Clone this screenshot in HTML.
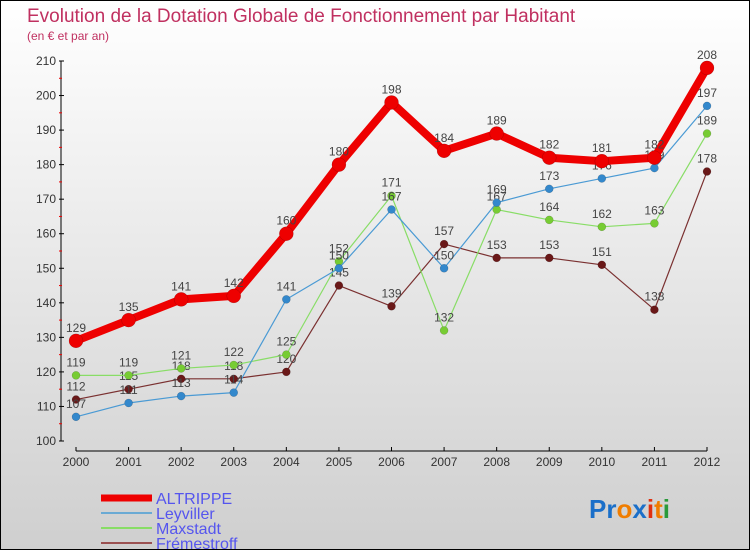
<!DOCTYPE html>
<html><head><meta charset="utf-8"><style>
body{margin:0;width:750px;height:550px;overflow:hidden}
#wrap{position:relative;width:748px;height:548px;border:1px solid #000;background:linear-gradient(#ffffff,#cfcfcf)}
svg{position:absolute;left:0;top:0}
text{font-family:"Liberation Sans",sans-serif}
</style></head><body>
<div id="wrap">
<svg id="chart" width="750" height="550">
<text x="26" y="21" font-size="19" fill="#c03060">Evolution de la Dotation Globale de Fonctionnement par Habitant</text>
<text x="26" y="39" font-size="12" fill="#c03060">(en € et par an)</text>
<text x="588" y="517" font-size="26" font-weight="bold"><tspan fill="#1a6fc9">Pr</tspan><tspan fill="#f07d00">o</tspan><tspan fill="#1a6fc9">x</tspan><tspan fill="#e03010">i</tspan><tspan fill="#f07d00">t</tspan><tspan fill="#2a9a3a">i</tspan></text>
</svg>
</div>
<script>
const years=[2000,2001,2002,2003,2004,2005,2006,2007,2008,2009,2010,2011,2012];
const yTicks=[100,110,120,130,140,150,160,170,180,190,200,210];
const altrippe=[129,135,141,142,160,180,198,184,189,182,181,182,208];
const leyviller=[107,111,113,114,141,150,167,150,169,173,176,179,197];
const maxstadt=[119,119,121,122,125,152,171,132,167,164,162,163,189];
const fremestroff=[112,115,118,118,120,145,139,157,153,153,151,138,178];
const seriesNames=["ALTRIPPE","Leyviller","Maxstadt","Frémestroff"];
const NS="http://www.w3.org/2000/svg";
const svg=document.getElementById('chart');
const x=i=>75+i*(706-75)/(years.length-1);
const y=v=>440-(v-100)*(380/110);
function mk(t,a,p){const e=document.createElementNS(NS,t);for(const k in a)e.setAttribute(k,a[k]);(p||svg).appendChild(e);return e;}
let e=mk('line',{x1:60,y1:y(210),x2:60,y2:y(100),stroke:'#000','stroke-width':1});


e=mk('line',{x1:75,y1:450,x2:706,y2:450,stroke:'#000','stroke-width':1});


yTicks.forEach(v=>{
  mk('line',{x1:58,y1:y(v),x2:63,y2:y(v),stroke:'#000'});
  if(v<210)mk('line',{x1:58,y1:y(v+5),x2:61,y2:y(v+5),stroke:'#e00'});
  const t=mk('text',{x:55,y:y(v)+4,'font-size':12,fill:'#333','text-anchor':'end'});t.textContent=v;
  
  
});
years.forEach((yr,i)=>{
  mk('line',{x1:x(i),y1:446,x2:x(i),y2:450,stroke:'#000'});
  const t=mk('text',{x:x(i),y:465,'font-size':12,fill:'#333','text-anchor':'middle'});t.textContent=yr;
  
  
});
function draw(data,color,w,r,fill,name){
  const g=mk('g',{});
  
  
  mk('polyline',{points:data.map((v,i)=>x(i)+','+y(v)).join(' '),fill:'none',stroke:color,'stroke-width':w,'stroke-linejoin':'round'},g);
  data.forEach((v,i)=>{
    const c=mk('circle',{cx:x(i),cy:y(v),r:r,fill:fill,stroke:'rgba(0,0,0,0.25)','stroke-width':0.5},g);
    
    
    const t=mk('text',{x:x(i),y:y(v)-9,'font-size':12,fill:'#444','text-anchor':'middle'},g);t.textContent=v;
    
    
  });
}
draw(fremestroff,'#7a3030',1.2,4,'#6a1818','fremestroff');
draw(maxstadt,'#88dd66',1.2,4,'#77cc33','maxstadt');
draw(leyviller,'#4a9ad4',1.2,4,'#3388cc','leyviller');
draw(altrippe,'#ee0000',8,7,'#ee0000','altrippe');
const legColors=['#ee0000','#6aaad4','#88dd66','#9a5050'];
const legW=[7,2,2,2];
seriesNames.forEach((n,i)=>{
  const ly=494+i*15;
  const g=mk('g',{});
  
  
  mk('line',{x1:100,y1:ly+3,x2:151,y2:ly+3,stroke:legColors[i],'stroke-width':legW[i]},g);
  const t=mk('text',{x:155,y:ly+9,'font-size':16,fill:'#5555ee'},g);t.textContent=n;
});
</script>
</body></html>
